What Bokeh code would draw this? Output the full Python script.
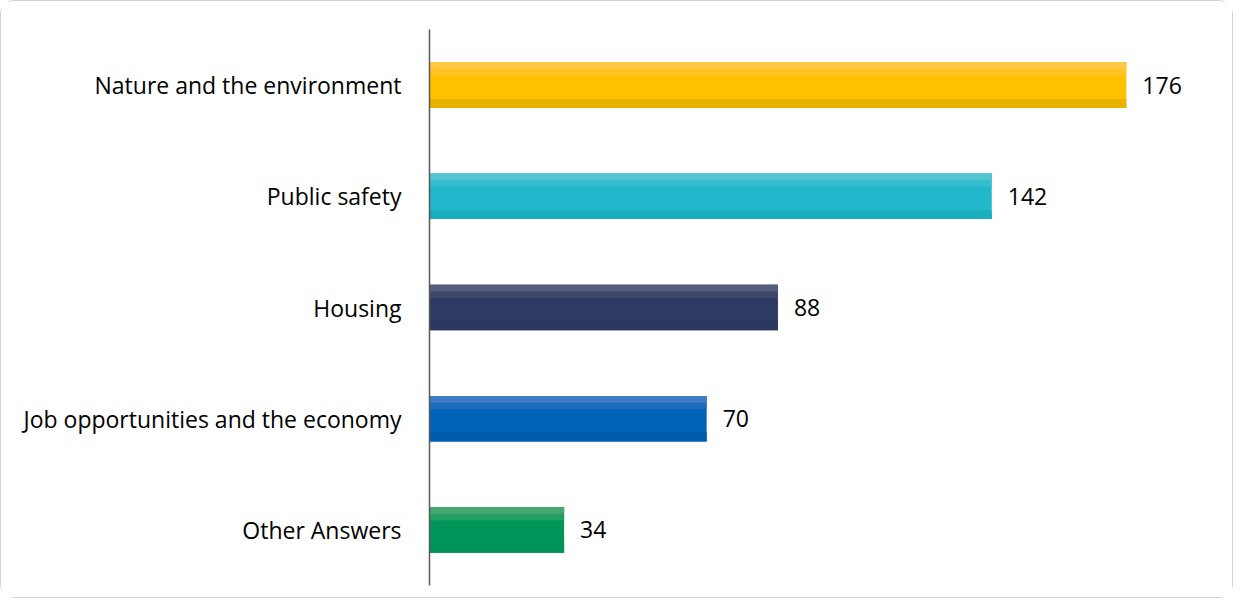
from bokeh.plotting import figure
from bokeh.models import ColumnDataSource, FactorRange, LabelSet
from bokeh.transform import dodge
from bokeh.core.properties import value
from bokeh.embed import file_html
from bokeh.resources import INLINE

categories = ["Nature and the environment", "Public safety", "Housing",
              "Job opportunities and the economy", "Other Answers"]
counts = [176, 142, 88, 70, 34]
colors_top = ["#FDC845", "#52C4D0", "#555D7A", "#3F7AC2", "#48A673"]
colors_upper = ["#FEC630", "#3CBFCE", "#454E6F", "#2A71BE", "#2FA269"]
colors_mid = ["#FFC000", "#22B8CB", "#2E3A62", "#0063B8", "#00965A"]
colors_bottom = ["#E8B200", "#1AADBB", "#2C3760", "#005BAC", "#00935A"]

src = ColumnDataSource(dict(cat=categories, val=counts, top=colors_top, upper=colors_upper,
                            mid=colors_mid, bottom=colors_bottom,
                            lbl=[str(v) for v in counts]))

p = figure(width=1233, height=598, output_backend="svg", toolbar_location=None,
           x_range=(0, 202.3), y_range=FactorRange(*reversed(categories)),
           min_border_left=428, min_border_right=4, min_border_top=28, min_border_bottom=14,
           styles={"border": "1px solid #d0d0d0", "border-radius": "14px", "box-sizing": "border-box"})

bh = 0.41
p.hbar(y="cat", right="val", left=0, height=bh, fill_color="mid", line_color=None, source=src)
p.hbar(y=dodge("cat", bh / 2 - 0.06, range=p.y_range), right="val", left=0, height=0.12,
       fill_color="upper", line_color=None, source=src, fill_alpha=0.7)
p.hbar(y=dodge("cat", bh / 2 - 0.03, range=p.y_range), right="val", left=0, height=0.06,
       fill_color="top", line_color=None, source=src)
p.hbar(y=dodge("cat", -bh / 2 + 0.04, range=p.y_range), right="val", left=0, height=0.08,
       fill_color="bottom", line_color=None, source=src)

labels = LabelSet(x="val", y="cat", text="lbl", source=src, x_offset=16,
                  text_baseline="middle", text_align="left", text_font=value("Open Sans"),
                  text_font_size="23px", text_color="#000000")
p.add_layout(labels)

p.xaxis.visible = False
p.xgrid.grid_line_color = None
p.ygrid.grid_line_color = None
p.outline_line_color = None
p.yaxis.major_tick_line_color = None
p.yaxis.minor_tick_line_color = None
p.yaxis.axis_line_color = "#595959"
p.yaxis.axis_line_width = 1.5
p.yaxis.major_label_standoff = 22
p.yaxis.major_label_text_font = "Open Sans"
p.yaxis.major_label_text_font_size = "23px"
p.yaxis.major_label_text_color = "#000000"

open("out.html", "w").write(file_html(p, INLINE))
